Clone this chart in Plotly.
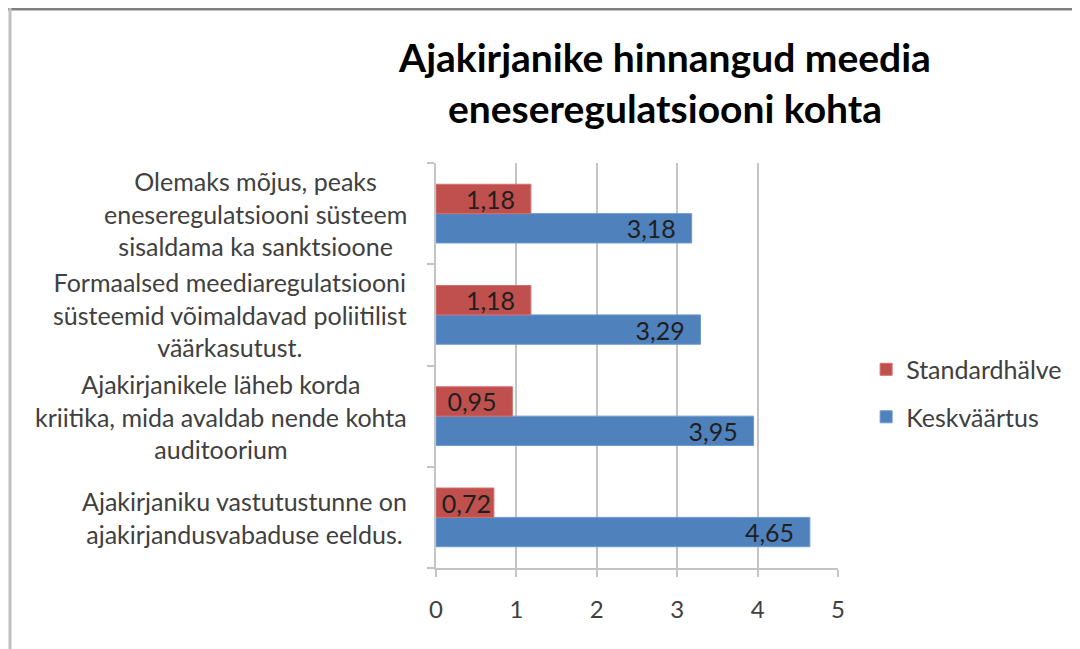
import plotly.graph_objects as go

# Categories, bottom to top as drawn
categories = [
    "Ajakirjaniku vastutustunne on<br>ajakirjandusvabaduse eeldus.",
    "Ajakirjanikele läheb korda<br>kriitika, mida avaldab nende kohta<br>auditoorium",
    "Formaalsed meediaregulatsiooni<br>süsteemid võimaldavad poliitilist<br>väärkasutust.",
    "Olemaks mõjus, peaks<br>eneseregulatsiooni süsteem<br>sisaldama ka sanktsioone",
]
keskvaartus = [4.65, 3.95, 3.29, 3.18]
standardhalve = [0.72, 0.95, 1.18, 1.18]
x_ticks = [0, 1, 2, 3, 4, 5]

font_family = "Lato, Carlito, sans-serif"
text_color = "#404040"
pad = "\u00a0\u00a0"


def label(v):
    # comma decimals, a little room before the bar end like Excel does
    s = f"{v:.2f}".replace(".", ",")
    return s + pad if v > 0.8 else s


fig = go.Figure()

fig.add_trace(go.Bar(
    y=categories, x=keskvaartus, orientation="h", name="Keskväärtus",
    legendgroup="k", legendrank=2,
    marker=dict(color="#4f81bd", line=dict(color="#6b9ad3", width=1)),
    text=[label(v) for v in keskvaartus],
    textposition="inside", insidetextanchor="end", textangle=0,
    constraintext="none",
    textfont=dict(color="#1f1f1f", size=25, family=font_family),
))
fig.add_trace(go.Bar(
    y=categories, x=standardhalve, orientation="h", name="Standardhälve",
    legendgroup="s", legendrank=1,
    marker=dict(color="#c0504d", line=dict(color="#d46f6c", width=1)),
    text=[label(v) for v in standardhalve],
    textposition="inside", insidetextanchor="end", textangle=0,
    constraintext="none",
    textfont=dict(color="#1f1f1f", size=25, family=font_family),
))

# category labels, centred like in the original
for cat in categories:
    fig.add_annotation(
        x=-27 / 402, y=cat, xref="paper", yref="y",
        text=cat, showarrow=False, xanchor="right", align="center",
        font=dict(size=25, color=text_color, family=font_family),
    )

# frame of the picture (top and left edges)
fig.add_shape(type="line", xref="paper", yref="paper",
              x0=-428 / 402, x1=652 / 402, y0=1 + 154 / 405, y1=1 + 154 / 405,
              line=dict(color="#808080", width=3))
fig.add_shape(type="line", xref="paper", yref="paper",
              x0=-426 / 402, x1=-426 / 402, y0=1 + 155 / 405, y1=-89 / 405,
              line=dict(color="#c0c0c0", width=3))

fig.update_layout(
    width=1080, height=649,
    margin=dict(l=428, r=250, t=155, b=89),
    barmode="group", bargap=0.42, bargroupgap=0,
    plot_bgcolor="white", paper_bgcolor="white",
    title=dict(
        text="<b>Ajakirjanike hinnangud meedia<br>eneseregulatsiooni kohta</b>",
        x=657 / 1080, xref="container", xanchor="center",
        y=1 - 64 / 649, yref="container", yanchor="middle",
        font=dict(size=39, color="#000000", family=font_family),
    ),
    legend=dict(
        x=1.07, y=0.432, xanchor="left", yanchor="middle",
        traceorder="grouped",
        font=dict(size=25, color=text_color, family=font_family),
        itemwidth=30, tracegroupgap=12,
    ),
    showlegend=True,
)

fig.update_xaxes(
    range=[0, 5], tickvals=x_ticks,
    showgrid=True, gridcolor="#c4c4c4", gridwidth=2,
    showline=True, linecolor="#c4c4c4", linewidth=2,
    ticks="outside", ticklen=7, tickcolor="#c4c4c4", tickwidth=2,
    tickfont=dict(size=24, color=text_color, family=font_family),
    ticklabelstandoff=12,
    zeroline=False,
)
fig.update_yaxes(
    showticklabels=False,
    showline=True, linecolor="#c4c4c4", linewidth=2,
    ticks="outside", tickson="boundaries", ticklen=7, tickcolor="#c4c4c4", tickwidth=2,
    showgrid=False,
)

fig.write_html("out.html")
